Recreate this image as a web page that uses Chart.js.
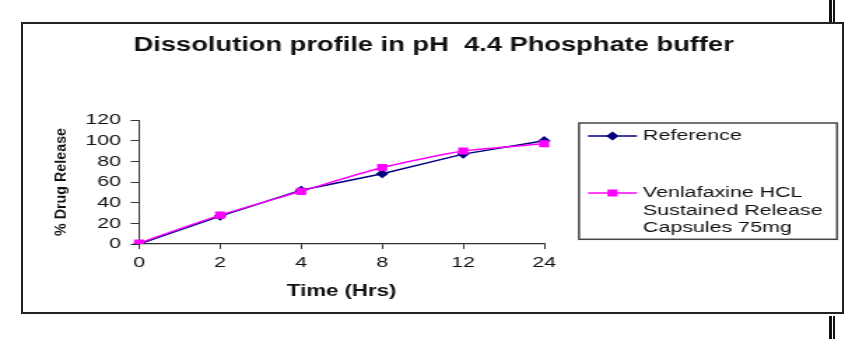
<!DOCTYPE html>
<html>
<head>
<meta charset="utf-8">
<script src="https://cdn.jsdelivr.net/npm/chart.js@4.4.1/dist/chart.umd.min.js"></script>
<style>
  html, body { margin: 0; padding: 0; background: #fff; }
  #page { position: relative; width: 845px; height: 339px; overflow: hidden; }
  #frame { position: absolute; left: 21px; top: 22px; width: 823px; height: 292px;
           border: 2px solid #222; box-sizing: border-box; }
  .bar { position: absolute; background: #111; }
  /* chart is laid out narrow and stretched sideways like the printed figure */
  #wrap { position: absolute; left: 0; top: 0; width: 604px; height: 339px;
          transform-origin: 0 0; transform: scaleX(1.399); }
</style>
</head>
<body>
<div id="page">
  <div id="frame"></div>
  <div class="bar" style="left:829px;top:0;width:3px;height:22px"></div>
  <div class="bar" style="left:833px;top:0;width:2px;height:22px"></div>
  <div class="bar" style="left:829px;top:316px;width:3px;height:23px"></div>
  <div class="bar" style="left:833px;top:316px;width:2px;height:23px"></div>
  <div id="wrap"><canvas id="dissolution" width="604" height="339"></canvas></div>
</div>
<script>
const timePoints = ['0', '2', '4', '8', '12', '24'];
const referenceRelease = [0, 27, 52, 68, 87, 100];
const venlafaxineRelease = [1, 28, 51, 74, 90, 97];
const seriesNames = ['Reference', 'Venlafaxine HCL Sustained Release Capsules 75mg'];
const yTicks = [0, 20, 40, 60, 80, 100, 120];

const chartTitle = 'Dissolution profile in pH  4.4 Phosphate buffer';
const xTitle = 'Time (Hrs)';
const yTitle = '% Drug Release';

const FONT = "'Liberation Sans', Arial, sans-serif";
Chart.defaults.font.family = FONT;
Chart.defaults.color = '#111';

// title, rotated y title and the boxed legend are painted by hand
const decorations = {
  id: 'decorations',
  afterDraw(chart) {
    const ctx = chart.ctx;
    ctx.save();
    ctx.fillStyle = '#111';

    ctx.font = 'bold 19.5px ' + FONT;
    ctx.textAlign = 'center';
    ctx.textBaseline = 'alphabetic';
    ctx.fillText(chartTitle, 310, 51);

    ctx.save();
    ctx.translate(44.3, (chart.chartArea.top + chart.chartArea.bottom) / 2);
    ctx.scale(0.8, 1);
    ctx.rotate(-Math.PI / 2);
    ctx.font = 'bold 14.3px ' + FONT;
    ctx.textBaseline = 'middle';
    ctx.fillText(yTitle, 0, 0);
    ctx.restore();

    // legend box
    ctx.strokeStyle = '#444';
    ctx.lineWidth = 1.5;
    ctx.strokeRect(413.9, 123, 184.4, 116.3);

    const rows = [136, 193];
    ctx.font = '15.3px ' + FONT;
    ctx.textAlign = 'left';
    ctx.textBaseline = 'middle';
    chart.data.datasets.forEach((ds, i) => {
      const y = rows[i];
      ctx.strokeStyle = ds.borderColor;
      ctx.lineWidth = ds.borderWidth;
      ctx.beginPath();
      ctx.moveTo(420.3, y);
      ctx.lineTo(455.3, y);
      ctx.stroke();
      ctx.fillStyle = ds.pointBackgroundColor;
      ctx.strokeStyle = ds.borderColor;
      Chart.helpers.drawPoint(ctx, {
        pointStyle: ds.pointStyle, radius: ds.pointRadius, rotation: 0, borderWidth: 1
      }, 437.8, y);

      // wrap the series name into the box
      ctx.fillStyle = '#111';
      const words = ds.label.split(' ');
      const lines = [];
      let line = '';
      words.forEach(w => {
        const test = line ? line + ' ' + w : w;
        if (ctx.measureText(test).width > 137 && line) {
          lines.push(line);
          line = w;
        } else {
          line = test;
        }
      });
      lines.push(line);
      lines.forEach((t, k) => ctx.fillText(t, 459.6, y + k * 17.5));
    });
    ctx.restore();
  }
};

new Chart(document.getElementById('dissolution'), {
  type: 'line',
  data: {
    labels: timePoints,
    datasets: [{
      label: seriesNames[0],
      data: referenceRelease,
      borderColor: '#000080',
      backgroundColor: '#000080',
      pointBackgroundColor: '#000080',
      borderWidth: 1.5,
      pointStyle: 'rectRot',
      pointRadius: 3.5,
      tension: 0,
      order: 1
    }, {
      label: seriesNames[1],
      data: venlafaxineRelease,
      borderColor: '#ff00ff',
      backgroundColor: '#ff00ff',
      pointBackgroundColor: '#ff00ff',
      borderWidth: 1.5,
      pointStyle: 'rect',
      pointRadius: 4,
      tension: 0.2,
      order: 0
    }]
  },
  options: {
    responsive: false,
    animation: false,
    layout: { padding: { left: 0, right: 215, top: 120, bottom: 0 } },
    plugins: {
      legend: { display: false },
      title: { display: false },
      tooltip: { enabled: false }
    },
    scales: {
      x: {
        offset: false,
        afterFit: (s) => { s.height = 95; },
        border: { color: '#333', width: 1.2 },
        grid: { drawOnChartArea: false, tickLength: 5, color: '#333', lineWidth: 1 },
        ticks: { padding: 5, font: { size: 15.3 }, color: '#111', maxRotation: 0 },
        title: {
          display: true, text: xTitle, color: '#111',
          font: { size: 15.9, weight: 'bold' },
          padding: { top: 0, bottom: 38 }
        }
      },
      y: {
        min: 0,
        max: 120,
        afterFit: (s) => { s.width = 99.4; },
        afterBuildTicks: (s) => { s.ticks = yTicks.map(v => ({ value: v })); },
        border: { color: '#333', width: 1 },
        grid: { drawOnChartArea: false, tickLength: 6, color: '#333', lineWidth: 1 },
        ticks: { padding: 7, font: { size: 15.3 }, color: '#111', autoSkip: false }
      }
    }
  },
  plugins: [decorations]
});
</script>
</body>
</html>
